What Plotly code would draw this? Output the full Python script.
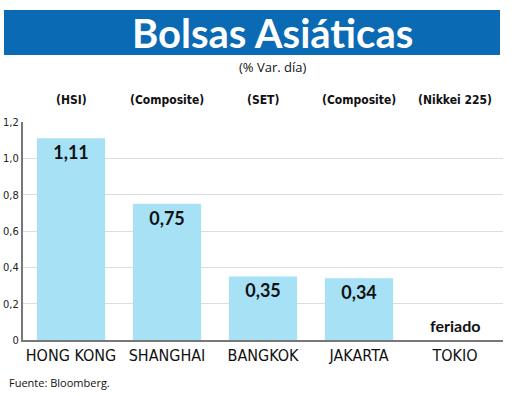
import plotly.graph_objects as go

categories = ["HONG KONG", "SHANGHAI", "BANGKOK", "JAKARTA", "TOKIO"]
indices = ["(HSI)", "(Composite)", "(SET)", "(Composite)", "(Nikkei 225)"]
values = [1.11, 0.75, 0.35, 0.34, None]
labels = ["1,11", "0,75", "0,35", "0,34", ""]
tick_vals = [0, 0.2, 0.4, 0.6, 0.8, 1.0, 1.2]
tick_text = ["0", "0,2", "0,4", "0,6", "0,8", "1,0", "1,2"]

COND = "Liberation Sans Narrow, DejaVu Sans Condensed, Arial Narrow, sans-serif"
COND_B = "DejaVu Sans Condensed, Liberation Sans Narrow, sans-serif"

fig = go.Figure()
fig.add_trace(go.Bar(
    x=categories, y=values, text=labels,
    textposition="inside", insidetextanchor="end",
    textfont=dict(family="Lato, Open Sans, sans-serif", size=18, color="#111111", weight="bold"),
    marker=dict(color="#a6e1f5", line=dict(width=0)),
    cliponaxis=False,
))

ann = []
for c, idx in zip(categories, indices):
    ann.append(dict(x=c, y=1.10, xref="x", yref="paper", text=idx, showarrow=False,
                    xanchor="center", yanchor="middle",
                    font=dict(family=COND_B, size=12, color="#111111", weight="bold")))
ann.append(dict(x="TOKIO", y=0, xref="x", yref="y", text="feriado", showarrow=False,
                xanchor="center", yanchor="bottom", yshift=3,
                font=dict(family="Lato, Open Sans, sans-serif", size=16, color="#111111", weight="bold")))
ann.append(dict(x=0.519, y=1.408, xref="paper", yref="paper", text="Bolsas Asiáticas",
                xanchor="center", yanchor="middle",
                showarrow=False, font=dict(family="Lato, Open Sans, sans-serif", size=40,
                                           color="white", weight="bold")))
ann.append(dict(x=0.519, y=1.252, xref="paper", yref="paper", text="(% Var. día)",
                xanchor="center", yanchor="middle",
                showarrow=False, font=dict(family="Open Sans, Lato, sans-serif", size=13, color="#111111")))
ann.append(dict(x=-0.033, y=-0.197, xref="paper", yref="paper", text="Fuente: Bloomberg.",
                xanchor="left", yanchor="middle", showarrow=False,
                font=dict(family="Open Sans, sans-serif", size=11, color="#111111")))

fig.update_layout(
    width=520, height=396,
    margin=dict(l=23, r=17, t=122, b=56, autoexpand=False),
    paper_bgcolor="white", plot_bgcolor="white",
    bargap=0.29, showlegend=False,
    annotations=ann,
    shapes=[dict(type="rect", xref="paper", yref="paper", x0=-0.0396, x1=0.99375,
                 y0=1.3073, y1=1.5138, fillcolor="#0a6ab4", line=dict(width=0), layer="below")],
    xaxis=dict(showgrid=False, showline=True, linecolor="#777777", linewidth=2, automargin=False,
               ticks="", tickfont=dict(family=COND, size=16, color="#111111")),
    yaxis=dict(range=[0, 1.2], tickvals=tick_vals, ticktext=tick_text, automargin=False,
               showgrid=True, gridcolor="#dddddd", gridwidth=1,
               showline=True, linecolor="#777777", linewidth=2, zeroline=False,
               ticks="", tickfont=dict(family=COND, size=11, color="#222222")),
)

fig.write_html("out.html", config={"displayModeBar": False},
               post_script="document.body.style.margin='0';document.body.style.padding='0';")
